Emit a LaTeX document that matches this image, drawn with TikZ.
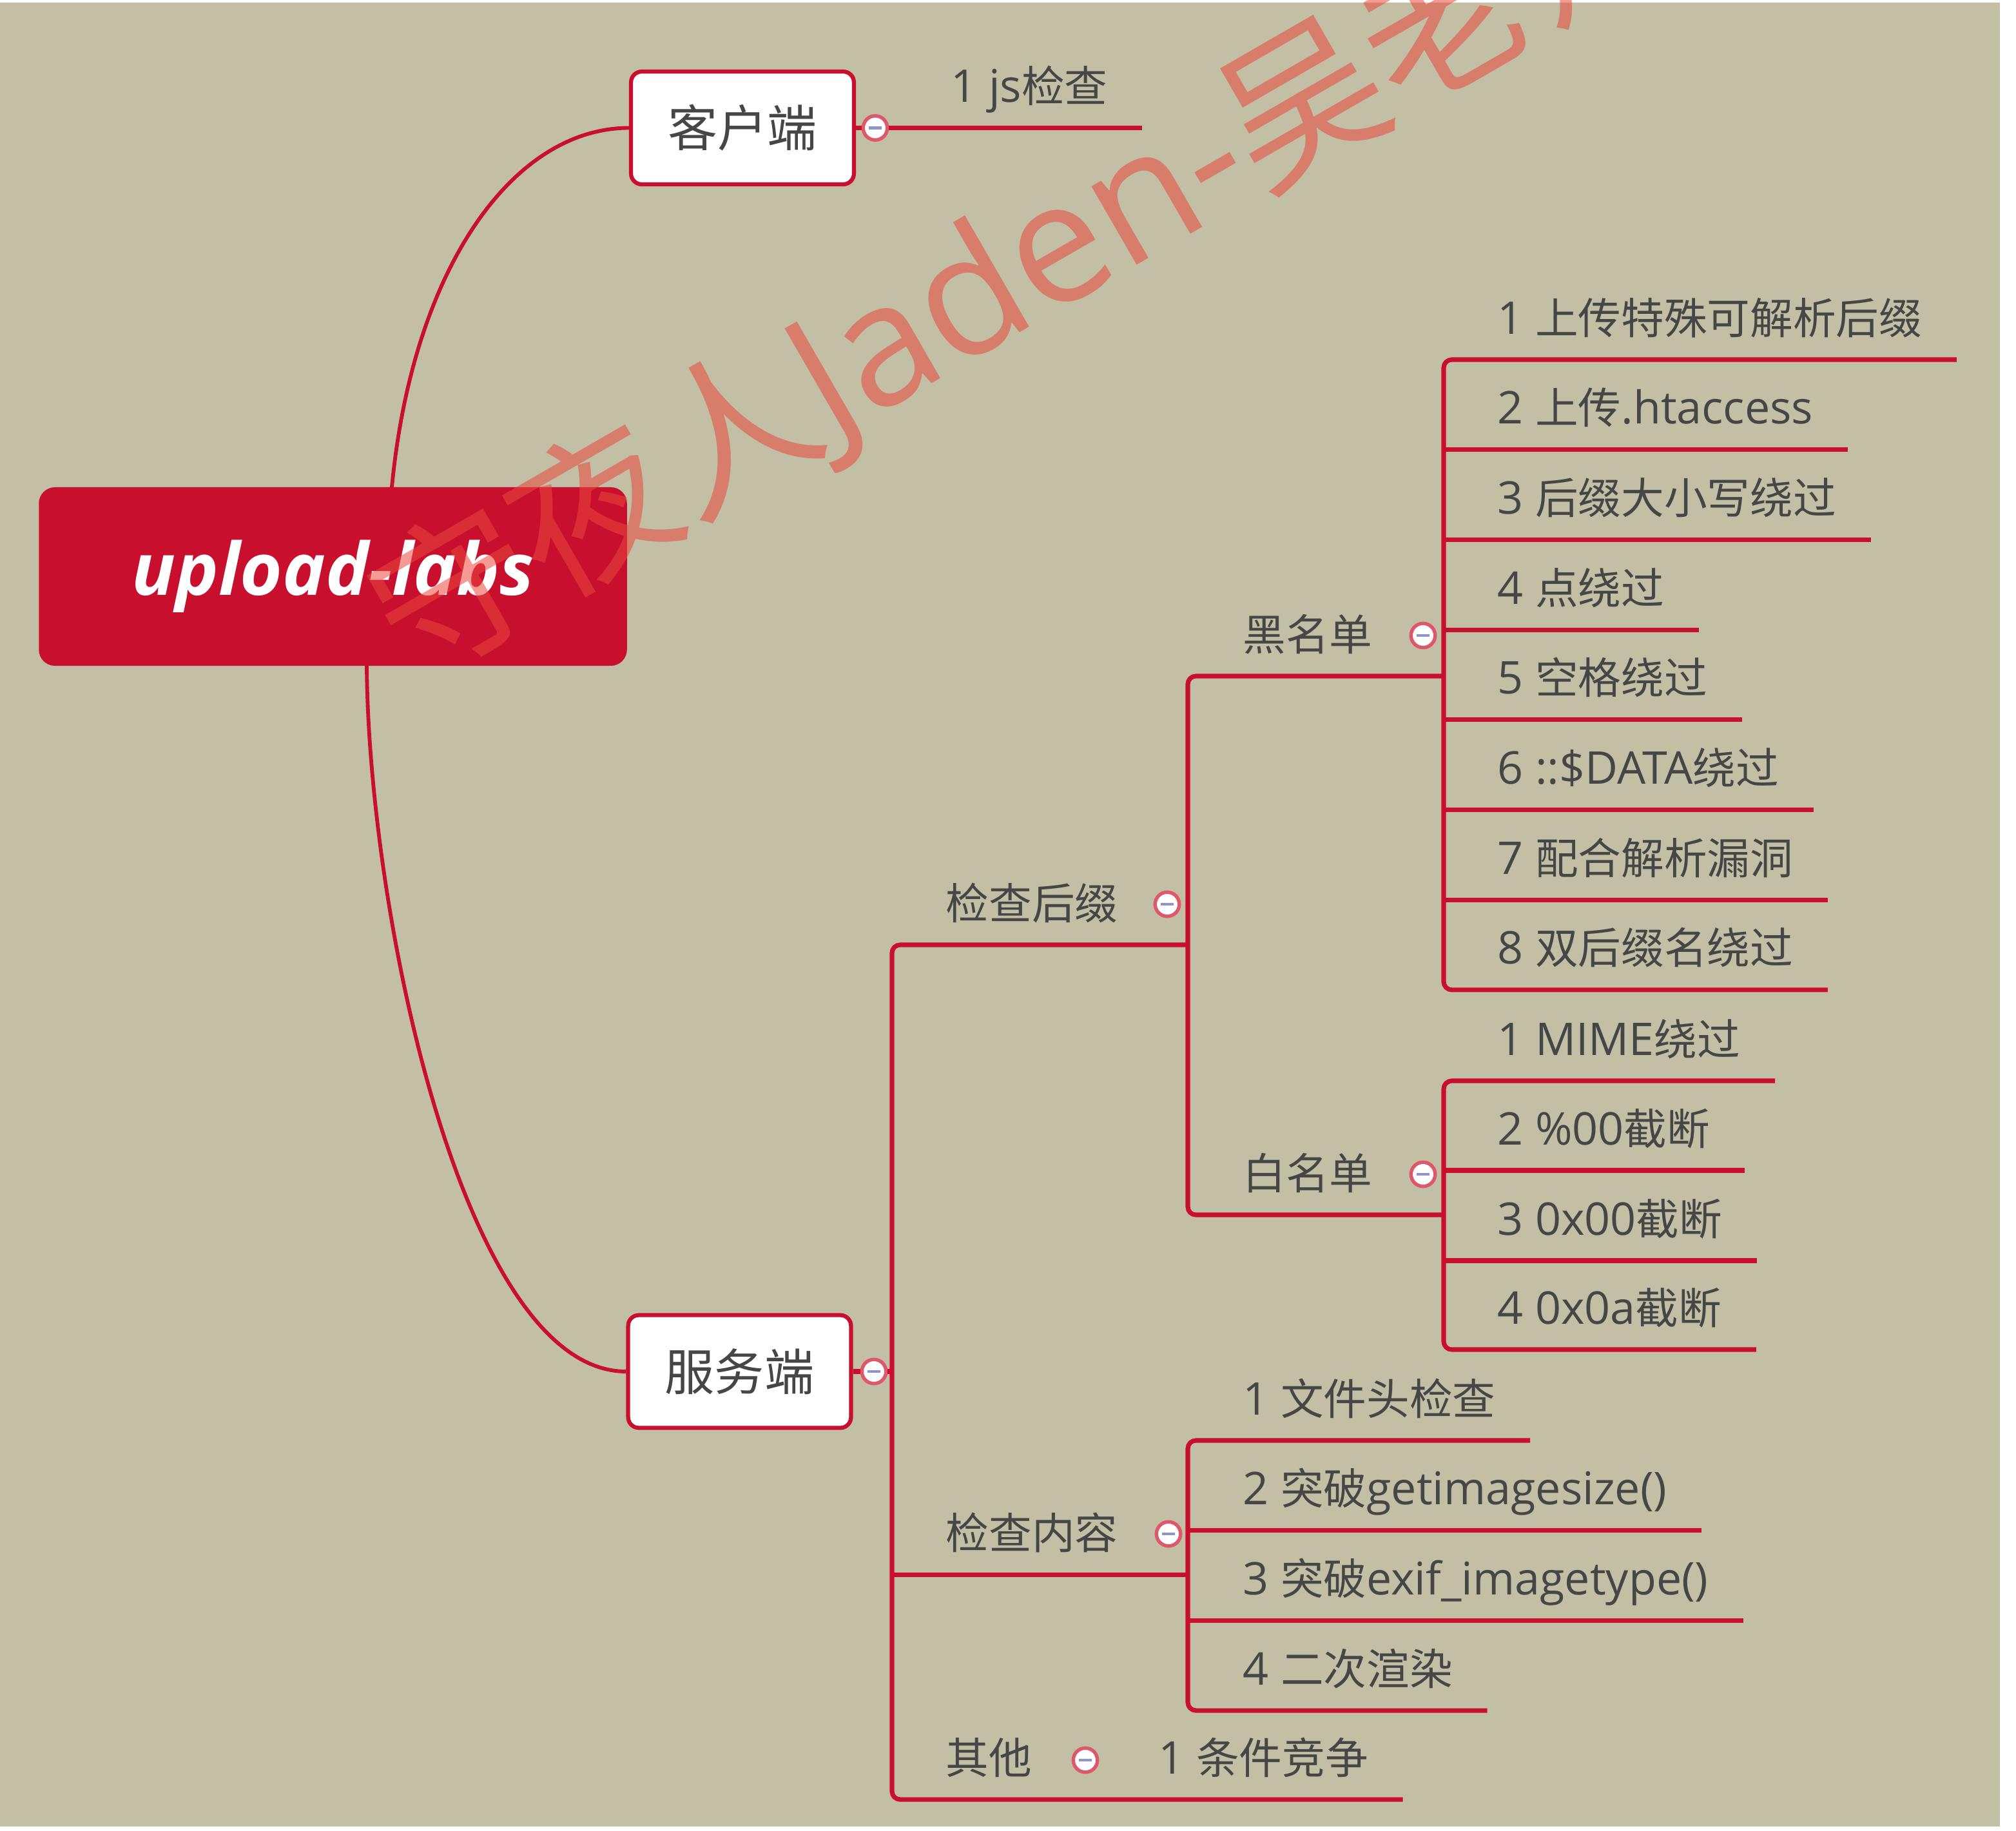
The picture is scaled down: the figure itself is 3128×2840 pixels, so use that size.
\documentclass[tikz,border=0pt]{standalone}
\usepackage{fontspec}
\usetikzlibrary{calc}
\setmainfont{Open Sans}
\newfontfamily\latf{Open Sans}[Scale=1.05]
\newfontfamily\rootf{Open Sans}
\newfontfamily\cjkf{Noto Sans CJK SC}
\XeTeXinterchartokenstate=1
\newXeTeXintercharclass\cjkcls
\count255="4E00
\loop
  \XeTeXcharclass\count255=\cjkcls
  \ifnum\count255<"9FFF \advance\count255 by 1 \repeat
\XeTeXinterchartoks 0 \cjkcls = {\cjkf}
\XeTeXinterchartoks 4095 \cjkcls = {\cjkf}
\XeTeXinterchartoks \cjkcls 0 = {\latf}
\XeTeXinterchartoks \cjkcls 4095 = {\latf}
\definecolor{bg}{RGB}{194,191,165}
\definecolor{crim}{RGB}{200,16,46}
\definecolor{txt}{RGB}{70,70,70}
\definecolor{ring}{RGB}{222,88,108}
\definecolor{foldbar}{RGB}{140,150,205}
\definecolor{wmc}{RGB}{235,70,60}
\tikzset{
  br/.style={draw=crim, line width=1.7pt},
  rc/.style={rounded corners=3pt},
  curv/.style={draw=crim, line width=1.4pt},
  lbl/.style={inner sep=0pt, anchor=base west, text=txt, font=\latf\fontsize{16}{19}\selectfont},
  topic/.style={draw=crim, line width=1.5pt, fill=white, rounded corners=4pt, minimum width=83pt, minimum height=42pt, inner sep=0pt, text=txt, font=\latf\fontsize{18.5}{22}\selectfont},
  rootn/.style={fill=crim, rounded corners=6pt, minimum width=219pt, minimum height=66.5pt, inner sep=0pt, text=white, font=\rootf\bfseries\itshape\fontsize{27}{31}\selectfont},
  fold/.style={circle, draw=ring, line width=1.3pt, fill=white, minimum size=9pt, inner sep=0pt,
    path picture={\draw[foldbar, line width=1.1pt] ([xshift=-2.3pt]path picture bounding box.center) -- ([xshift=2.3pt]path picture bounding box.center);}},
  wmark/.style={inner sep=0pt, anchor=west, rotate=30, text=wmc, text opacity=0.55, font=\rootf\fontsize{60}{60}\selectfont}
}
\begin{document}
\begin{tikzpicture}[x=0.24pt, y=-0.24pt]
\useasboundingbox (0,0) rectangle (3128,2840);
\fill[white] (0,0) rectangle (3128,2840);
\fill[bg] (0,4) rectangle (3103,2834);

% trunk x positions
\coordinate (X1) at (1384,0);
\coordinate (X2) at (1843,0);
\coordinate (X3) at (2240,0);

% main topics
\node[topic] (kh) at (1152,198.5) {客户端};
\node[topic] (fw) at (1147.5,2128) {服务端};

% labels
\node[lbl] (js) at (1475,158.5) {1 js检查};
\node[lbl] (jc) at (1467,1426) {检查后缀};
\node[lbl] (nr) at (1467,2403) {检查内容};
\node[lbl] (qt) at (1467,2752) {其他};
\node[lbl] (tj) at (1797,2752) {1 条件竞争};
\node[lbl] (hm) at (1928,1009) {黑名单};
\node[lbl] (bm) at (1928,1845) {白名单};

\node[lbl] (b1) at (2323,518) {1 上传特殊可解析后缀};
\node[lbl] (b2) at (2323,657.7) {2 上传.htaccess};
\node[lbl] (b3) at (2323,797.4) {3 后缀大小写绕过};
\node[lbl] (b4) at (2323,937.1) {4 点绕过};
\node[lbl] (b5) at (2323,1076.8) {5 空格绕过};
\node[lbl] (b6) at (2323,1216.5) {6 ::\$DATA绕过};
\node[lbl] (b7) at (2323,1356.2) {7 配合解析漏洞};
\node[lbl] (b8) at (2323,1495.9) {8 双后缀名绕过};

\node[lbl] (w1) at (2323,1637) {1 MIME绕过};
\node[lbl] (w2) at (2323,1776) {2 \%00截断};
\node[lbl] (w3) at (2323,1916) {3 0x00截断};
\node[lbl] (w4) at (2323,2054) {4 0x0a截断};

\node[lbl] (c1) at (1928,2195) {1 文件头检查};
\node[lbl] (c2) at (1928,2334) {2 突破getimagesize()};
\node[lbl] (c3) at (1928,2474) {3 突破exif\_imagetype()};
\node[lbl] (c4) at (1928,2614) {4 二次渲染};

% root and curves from root
\coordinate (rootc) at (516.5,894.5);
\draw[curv] ($(rootc)+(91.5,-138.5)$) .. controls (640,418) and (795,198.5) .. (kh.west);
\draw[curv] ($(rootc)+(52.5,138.5)$) .. controls (572,1420) and (720,2128) .. (fw.west);
\node[rootn] (root) at (rootc) {upload-labs};

% client branch
\node[fold] (f1) at (1358,198.5) {};
\draw[br] (kh.east) -- (f1.west);
\draw[br] (f1.east) -- ($(js.base east)+(53,40)$);

% server trunk
\node[fold] (f2) at (1356,2128) {};
\draw[br] (fw.east) -- (f2.west);
\draw[br] (f2.east) -- (f2.east -| X1);
\draw[br,rc] ($(jc.base west -| X2)+(0,40)$) -- ($(jc.base west -| X1)+(0,40)$) -- ($(qt.base west -| X1)+(0,40)$) -- ($(tj.base east)+(53,40)$);
\draw[br] ($(nr.base west -| X1)+(0,40)$) -- ($(nr.base west -| X2)+(0,40)$);

% suffix trunk
\draw[br,rc] ($(hm.base west -| X3)+(0,40)$) -- ($(hm.base west -| X2)+(0,40)$) -- ($(bm.base west -| X2)+(0,40)$) -- ($(bm.base west -| X3)+(0,40)$);

% blacklist
\draw[br,rc] ($(b1.base east)+(53,40)$) -- ($(b1.base west -| X3)+(0,40)$) -- ($(b8.base west -| X3)+(0,40)$) -- ($(b8.base east)+(53,40)$);
\foreach \n in {b2,b3,b4,b5,b6,b7}
  \draw[br] ($(\n.base west -| X3)+(0,40)$) -- ($(\n.base east)+(53,40)$);

% whitelist
\draw[br,rc] ($(w1.base east)+(53,40)$) -- ($(w1.base west -| X3)+(0,40)$) -- ($(w4.base west -| X3)+(0,40)$) -- ($(w4.base east)+(53,40)$);
\foreach \n in {w2,w3}
  \draw[br] ($(\n.base west -| X3)+(0,40)$) -- ($(\n.base east)+(53,40)$);

% content
\draw[br,rc] ($(c1.base east)+(53,40)$) -- ($(c1.base west -| X2)+(0,40)$) -- ($(c4.base west -| X2)+(0,40)$) -- ($(c4.base east)+(53,40)$);
\foreach \n in {c2,c3}
  \draw[br] ($(\n.base west -| X2)+(0,40)$) -- ($(\n.base east)+(53,40)$);

% fold markers
\node[fold] (f3) at (1811,1403) {};
\node[fold] (f4) at (2208,986) {};
\node[fold] (f5) at (2208,1822) {};
\node[fold] (f6) at (1813,2380) {};
\node[fold] (f7) at (1684,2731) {};

% watermark
\node[wmark] (wm) at (600,990) {守夜人Jaden-吴老师};
\end{tikzpicture}
\end{document}
